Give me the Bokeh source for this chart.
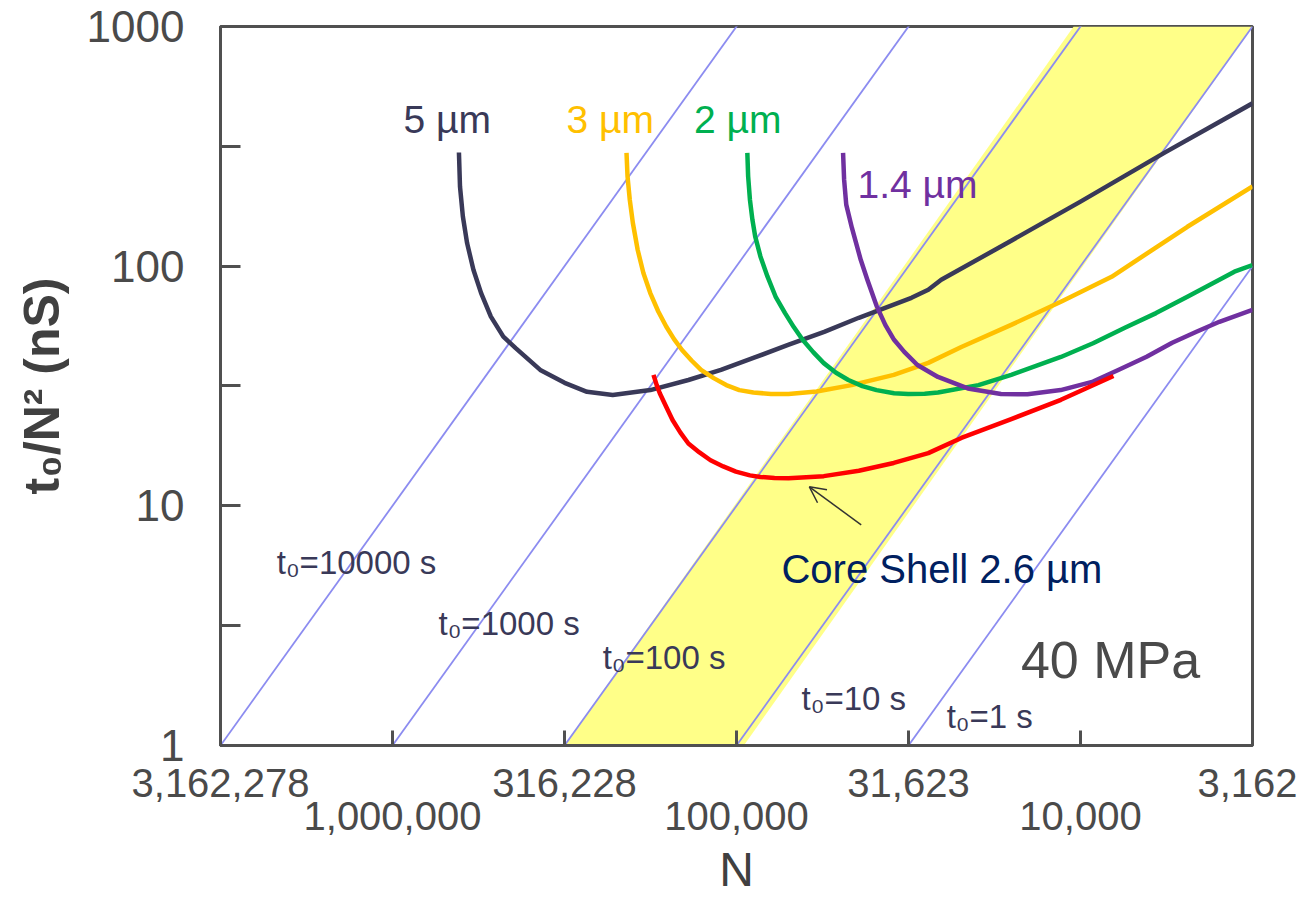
from bokeh.plotting import figure
from bokeh.models import (Range1d, FixedTicker, CustomJSTickFormatter, LogAxis,
                          Arrow, OpenHead)
from bokeh.core.properties import value
from bokeh.embed import file_html
from bokeh.resources import INLINE

FONT = "Liberation Sans"
AXIS_GREY = "#4a4a4a"

# ---------------------------------------------------------------- axis ticks
x_ticks = [3162277.66, 1000000.0, 316227.77, 100000.0, 31622.78, 10000.0, 3162.28]
x_labels_upper = ["3,162,278", "", "316,228", "", "31,623", "", "3,162"]
x_labels_lower = ["", "1,000,000", "", "100,000", "", "10,000", ""]
y_ticks = [1.0, 3.1623, 10.0, 31.623, 100.0, 316.23, 1000.0]
y_labels = ["1", "", "10", "", "100", "", "1000"]

# ------------------------------------------------------- constant-t0 lines
t0_seconds = [10000, 1000, 100, 10, 1]
t0_names = ["t\u2080=10000 s", "t\u2080=1000 s", "t\u2080=100 s", "t\u2080=10 s", "t\u2080=1 s"]

# ------------------------------------------------- kinetic curves (N, t0/N2)
n_5um = [641000, 636500, 624400, 607000, 581800, 552600, 517600, 476300, 438500,
         372000, 316000, 272000, 229000, 178000, 138000, 111000, 89300, 70800,
         55600, 44100, 31000, 27700, 25400, 15900, 10000, 5660, 3162]
h_5um = [298, 215, 161.3, 124.9, 96.6, 77.2, 61.6, 50.8, 45.5, 36.9, 32.6, 29.9,
         29.0, 30.4, 33.5, 36.9, 41.4, 46.9, 53.2, 60.9, 73.8, 79.7, 87.7, 127.7,
         185.9, 299, 478]

n_3um = [208800, 207400, 204300, 200100, 193800, 186500, 178100, 168800, 160100,
         151900, 144000, 135100, 126800, 116500, 107100, 98100, 89300, 79400,
         70600, 58500, 46300, 34900, 27700, 22200, 15900, 11400, 8120, 4890, 3162]
h_3um = [297, 237, 189.4, 151.4, 117.1, 93.6, 77.2, 64.7, 56.0, 49.6, 44.7, 40.4,
         36.9, 34.1, 31.9, 30.4, 29.7, 29.3, 29.3, 30.0, 31.9, 35.2, 39.5, 46.0,
         56.9, 71.0, 90.3, 146, 215]

n_2um = [93000, 92500, 91400, 89900, 88250, 85200, 81300, 77000, 72250, 68150,
         64240, 59840, 55760, 51360, 47300, 43050, 39160, 34830, 31690, 28380,
         25960, 19800, 15900, 11400, 9194, 7430, 6030, 4890, 3947, 3570, 3162]
h_2um = [297, 237, 189.4, 156.3, 133.1, 109.8, 90.6, 74.7, 63.7, 55.7, 49.3, 43.8,
         39.4, 35.9, 33.5, 31.6, 30.4, 29.5, 29.3, 29.35, 29.7, 31.9, 35.2, 41.8,
         47.7, 55.3, 63.7, 74.5, 87.7, 94.8, 101]

n_14um = [49000, 48660, 47970, 46200, 43540, 41650, 39160, 36940, 34830, 32530,
          29790, 25960, 21260, 17030, 14260, 11420, 9194, 7767, 6424, 5413, 4585,
          3947, 3162]
h_14um = [297, 229.6, 180.6, 144.7, 106.3, 87.7, 68.3, 56.9, 49.3, 43.9, 38.7,
          34.5, 30.9, 29.3, 29.2, 30.4, 33.0, 36.9, 41.9, 47.9, 53.4, 58.6, 65.7]

n_core = [174300, 170600, 167100, 160100, 153450, 145550, 138000, 128150, 119000,
          109300, 100400, 91400, 85200, 77540, 70600, 62720, 55760, 44090, 34900,
          27700, 22200, 15900, 11400, 8020]
h_core = [35.2, 31.9, 29.5, 25.9, 22.8, 20.2, 18.2, 16.7, 15.5, 14.6, 13.9, 13.4,
          13.2, 13.06, 13.04, 13.15, 13.3, 14.0, 15.1, 16.6, 19.2, 23.0, 27.7, 34.8]

# ------------------------------------------------------------ shaded region
band_n = [316228, 10470, 3162, 95200]
band_h = [1, 1000, 1000, 1]

N_MAX, N_MIN = x_ticks[0], x_ticks[-1]


def tick_formatter(vals, labs):
    return CustomJSTickFormatter(args=dict(vals=vals, labs=labs), code="""
        const lt = Math.log10(tick);
        let best = 0, bd = Infinity;
        for (let i = 0; i < vals.length; i++) {
            const d = Math.abs(lt - Math.log10(vals[i]));
            if (d < bd) { bd = d; best = i; }
        }
        return labs[best];
    """)


p = figure(width=1297, height=899, x_axis_type="log", y_axis_type="log",
           x_range=Range1d(N_MAX, N_MIN), y_range=Range1d(y_ticks[0], y_ticks[-1]),
           output_backend="svg", toolbar_location=None,
           min_border_left=220, min_border_right=45,
           min_border_top=26, min_border_bottom=154)
p.background_fill_color = "white"
p.border_fill_color = "white"
p.xgrid.visible = False
p.ygrid.visible = False
p.outline_line_color = "#505050"
p.outline_line_width = 3

# y axis
ya = p.yaxis[0]
ya.ticker = FixedTicker(ticks=y_ticks)
ya.formatter = tick_formatter(y_ticks, y_labels)
ya.major_tick_in = 20
ya.major_tick_out = 0
ya.major_tick_line_color = "#505050"
ya.major_tick_line_width = 3
ya.minor_tick_line_color = None
ya.axis_line_color = "#505050"
ya.axis_line_width = 3
ya.major_label_standoff = 36
ya.major_label_text_font = FONT
ya.major_label_text_font_size = "44px"
ya.major_label_text_color = AXIS_GREY
ya.axis_label = "t\u2080/N\u00b2 (nS)"
ya.axis_label_text_font = FONT
ya.axis_label_text_font_style = "bold"
ya.axis_label_text_font_size = "50px"
ya.axis_label_text_color = "#404040"
ya.axis_label_standoff = 14

# x axis, upper row of labels (with the tick marks)
xa = p.xaxis[0]
xa.ticker = FixedTicker(ticks=x_ticks)
xa.formatter = tick_formatter(x_ticks, x_labels_upper)
xa.major_tick_in = 15
xa.major_tick_out = 0
xa.major_tick_line_color = "#505050"
xa.major_tick_line_width = 3
xa.minor_tick_line_color = None
xa.axis_line_color = "#505050"
xa.axis_line_width = 3
xa.major_label_standoff = 23
xa.major_label_text_font = FONT
xa.major_label_text_font_size = "40px"
xa.major_label_text_color = AXIS_GREY

# x axis, lower row of labels and the title
xb = LogAxis(ticker=FixedTicker(ticks=x_ticks),
             formatter=tick_formatter(x_ticks, x_labels_lower),
             axis_line_color=None, major_tick_line_color=None,
             minor_tick_line_color=None, major_label_standoff=-4,
             major_label_text_font=FONT, major_label_text_font_size="40px",
             major_label_text_color=AXIS_GREY,
             axis_label="N", axis_label_text_font=FONT,
             axis_label_text_font_style="normal", axis_label_text_font_size="48px",
             axis_label_text_color="#404040", axis_label_standoff=10)
p.add_layout(xb, "below")

# shaded band
p.patch(band_n, band_h, fill_color="#ffff88", line_color=None)

# constant analysis-time lines: t0/N^2 in ns
for t0 in t0_seconds:
    ends = [N_MAX, N_MIN]
    p.line(ends, [t0 * 1e9 / n ** 2 for n in ends], line_color="#8c8cf0", line_width=1.8)

# particle-size curves
curves = [(n_5um, h_5um, "#393958"), (n_3um, h_3um, "#ffc000"),
          (n_2um, h_2um, "#00b050"), (n_14um, h_14um, "#7030a0"),
          (n_core, h_core, "#ff0000")]
for xs, ys, col in curves:
    p.line(xs, ys, line_color=col, line_width=4.5, line_join="round", line_cap="butt")


def put_text(x, y, txt, color, size):
    p.text(x=x, y=y, text=txt, text_color=color, text_font=value(FONT),
           text_font_size=size, text_align="left", text_baseline="alphabetic")


put_text([929000], [409.8], ["5 \u00b5m"], "#393958", "39px")
put_text([312000], [409.8], ["3 \u00b5m"], "#ffc000", "39px")
put_text([133000], [409.8], ["2 \u00b5m"], "#00b050", "39px")
put_text([44500], [219.6], ["1.4 \u00b5m"], "#7030a0", "39px")
put_text([74000], [5.46], ["Core Shell 2.6 \u00b5m"], "#002060", "40px")
put_text([14900], [2.28], ["40 MPa"], "#4a4a4a", "52px")

put_text([2170000, 735000, 245000, 64700, 24500],
         [5.79, 3.22, 2.33, 1.57, 1.32], t0_names, "#393958", "33px")

p.add_layout(Arrow(end=OpenHead(size=16, line_color="#333333", line_width=1.5),
                   x_start=43400, y_start=8.33, x_end=61400, y_end=12.0,
                   line_color="#333333", line_width=1.5))

open("out.html", "w").write(file_html(p, INLINE))
